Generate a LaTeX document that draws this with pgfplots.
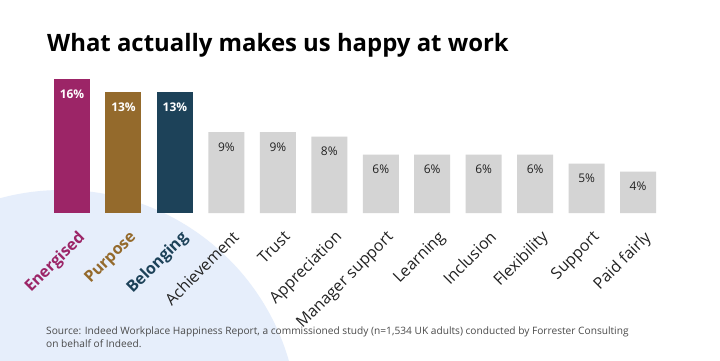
\documentclass[border=0pt]{standalone}
\usepackage{pgfplots}
\pgfplotsset{compat=1.18}
\usepackage{fontspec}
\setmainfont{Open Sans}
\definecolor{cEn}{HTML}{9C2567}
\definecolor{cPu}{HTML}{946A2C}
\definecolor{cBe}{HTML}{1D4259}
\definecolor{cGr}{HTML}{D4D4D4}
\definecolor{cBg}{HTML}{E6EEFB}
\definecolor{cTx}{HTML}{222222}
\definecolor{cSrc}{HTML}{4A4A4A}
\begin{document}
\begin{tikzpicture}[x=1bp,y=1bp]
\clip (0,0) rectangle (720,360);
\fill[white] (0,0) rectangle (720,360);
\fill[cBg] (62,-66) circle (236);
\node[anchor=base west, font=\fontsize{24}{28}\selectfont\bfseries, inner sep=0, text=black] at (47,309) {What actually makes us happy at work};
\node[anchor=base west, font=\fontsize{10.2}{13}\selectfont, inner sep=0, text=cSrc, align=left] at (46,13) {Source: Indeed Workplace Happiness Report, a commissioned study (n=1,534 UK adults) conducted by Forrester Consulting\\on behalf of Indeed.};
\begin{axis}[at={(46.3bp,147bp)}, anchor=south west, scale only axis,
  width=617.5bp, height=144bp, xmin=-0.5, xmax=11.5, ymin=0, ymax=16,
  axis line style={draw=none}, tick style={draw=none}, ytick=\empty,
  xtick={0,...,11},
  xticklabels={{\bfseries\color{cEn}Energised},{\bfseries\color{cPu}Purpose},{\bfseries\color{cBe}Belonging},Achievement,Trust,Appreciation,Manager support,Learning,Inclusion,Flexibility,Support,Paid fairly},
  xticklabel style={xshift=5bp, yshift=-15bp, rotate=45, anchor=north east, font=\fontsize{16}{18}\selectfont, text=cTx, inner sep=1bp},
  clip=false, point meta=explicit symbolic, nodes near coords,
  every node near coord/.append style={anchor=center, yshift=-15bp, font=\fontsize{12}{14}\selectfont},
  every axis plot/.append style={ybar, bar shift=0pt, bar width=36bp, draw=none}]
\addplot[fill=cEn, every node near coord/.append style={text=white, font=\fontsize{12}{14}\selectfont\bfseries}] coordinates {(0,14.9) [16\%]};
\addplot[fill=cPu, every node near coord/.append style={text=white, font=\fontsize{12}{14}\selectfont\bfseries}] coordinates {(1,13.4) [13\%]};
\addplot[fill=cBe, every node near coord/.append style={text=white, font=\fontsize{12}{14}\selectfont\bfseries}] coordinates {(2,13.4) [13\%]};
\addplot[fill=cGr, every node near coord/.append style={text=cTx}] coordinates {
(3,9.0) [9\%] (4,9.0) [9\%] (5,8.5) [8\%] (6,6.5) [6\%] (7,6.5) [6\%]
(8,6.5) [6\%] (9,6.5) [6\%] (10,5.5) [5\%] (11,4.6) [4\%]};
\end{axis}
\end{tikzpicture}
\end{document}
